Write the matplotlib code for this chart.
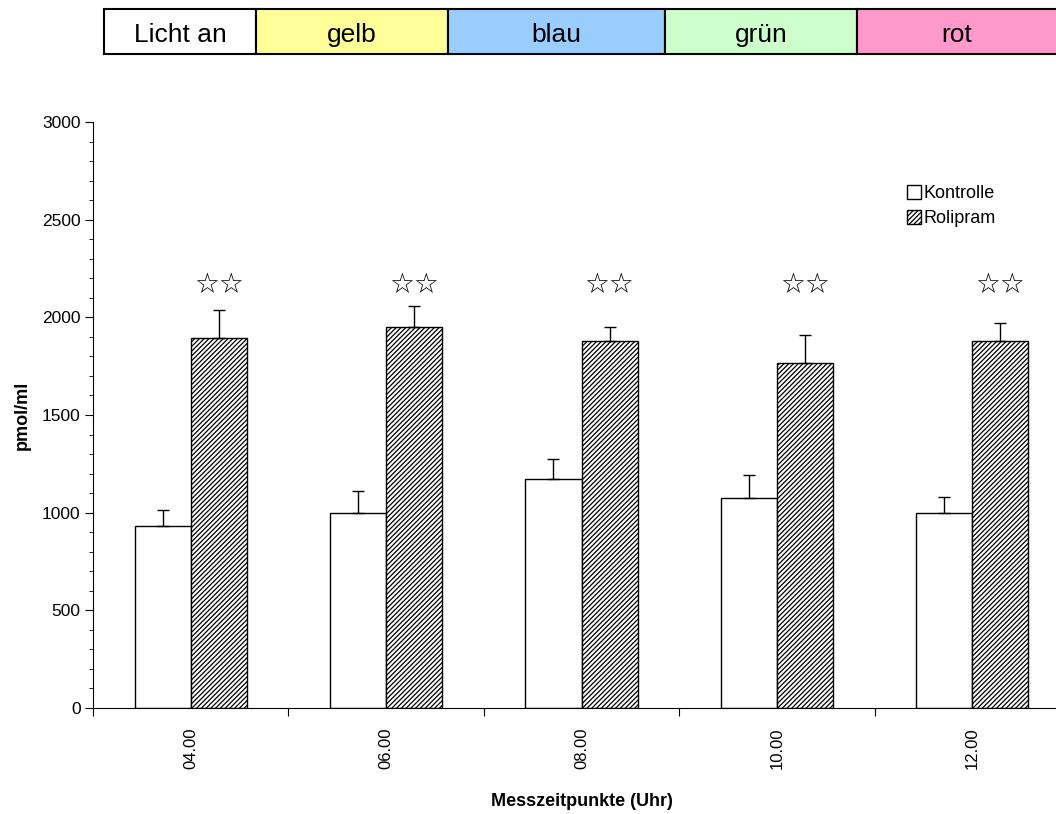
import numpy as np
import matplotlib.pyplot as plt
from matplotlib.patches import Rectangle

plt.rcParams['font.family'] = ['Liberation Sans', 'DejaVu Sans']
plt.rcParams['hatch.linewidth'] = 0.9

zeiten = ['04.00', '06.00', '08.00', '10.00', '12.00']
kontrolle = [932, 998, 1172, 1075, 998]
kontrolle_err = [82, 113, 103, 118, 82]
rolipram = [1895, 1951, 1879, 1766, 1879]
rolipram_err = [143, 107, 72, 144, 92]
licht_labels = ['Licht an', 'gelb', 'blau', 'grün', 'rot']
licht_farben = ['#ffffff', '#ffff99', '#99ccff', '#ccffcc', '#ff99cc']
licht_grenzen = [104, 256, 448, 665, 857, 1070]

fig = plt.figure(figsize=(10.56, 8.14), dpi=100)
W, H = 1056, 814

# Farbleiste oben
top = fig.add_axes([0, 0, 1, 1], zorder=0)
top.set_xlim(0, W)
top.set_ylim(H, 0)
top.axis('off')
for i, lab in enumerate(licht_labels):
    x0, x1 = licht_grenzen[i], licht_grenzen[i + 1]
    top.add_patch(Rectangle((x0, 9), x1 - x0, 45, facecolor=licht_farben[i],
                            edgecolor='black', linewidth=1.5))
    top.text((x0 + x1) / 2 if i < 4 else (x0 + 1056) / 2, 42, lab,
             ha='center', va='baseline', fontsize=19)

# Hauptdiagramm
x0_ax, x1_ax, y0_ax, y1_ax = 93, 1070, 708, 122
ax = fig.add_axes([x0_ax / W, 1 - y0_ax / H, (x1_ax - x0_ax) / W, (y0_ax - y1_ax) / H], zorder=1)
ax.patch.set_alpha(0)
x = np.arange(len(zeiten))
bw = 0.287
ax.bar(x - bw / 2, kontrolle, bw, color='white', edgecolor='black', linewidth=1,
       label='Kontrolle', zorder=2)
ax.bar(x + bw / 2, rolipram, bw, color='white', edgecolor='black', hatch='///////',
       linewidth=1, label='Rolipram', zorder=2)
ax.errorbar(x - bw / 2, kontrolle, yerr=[np.zeros(5), kontrolle_err], fmt='none',
            ecolor='black', elinewidth=1, capsize=4, capthick=1, zorder=3)
ax.errorbar(x + bw / 2, rolipram, yerr=[np.zeros(5), rolipram_err], fmt='none',
            ecolor='black', elinewidth=1, capsize=4, capthick=1, zorder=3)
for xi in x:
    ax.text(xi + bw / 2, 2166, '☆☆', ha='center', va='center', fontsize=20,
            family='DejaVu Sans')

ax.set_xlim(-0.5, 4.5)
ax.set_ylim(0, 3000)
ax.set_yticks(np.arange(0, 3001, 500))
ax.set_yticks(np.arange(0, 3001, 100), minor=True)
ax.set_xticks(np.arange(-0.5, 4.6, 1.0))
ax.set_xticklabels([])
ax.set_xticks(x, minor=True)
ax.set_xticklabels(zeiten, minor=True, rotation=90)
ax.tick_params(axis='x', which='minor', length=0, pad=14, labelsize=12)
ax.tick_params(axis='x', which='major', length=6, direction='out')
ax.tick_params(axis='y', which='major', length=6, labelsize=12.5, pad=3)
ax.tick_params(axis='y', which='minor', length=3)
for s in ['top', 'right']:
    ax.spines[s].set_visible(False)
ax.set_ylabel('pmol/ml', fontweight='bold', fontsize=13)
ax.yaxis.set_label_coords(-(x0_ax - 31) / (x1_ax - x0_ax), 0.5)
ax.set_xlabel('Messzeitpunkte (Uhr)', fontweight='bold', fontsize=13)
ax.xaxis.set_label_coords((582 - x0_ax) / (x1_ax - x0_ax), -(793 - y0_ax) / (y0_ax - y1_ax))

ax.legend(loc='upper left', bbox_to_anchor=((900 - x0_ax) / (x1_ax - x0_ax), 1 - (178 - y1_ax) / (y0_ax - y1_ax)),
          frameon=False, fontsize=13, handlelength=0.75, handleheight=0.75,
          handletextpad=0.15, labelspacing=0.45, borderaxespad=0)

fig.savefig('out.png', dpi=100)
